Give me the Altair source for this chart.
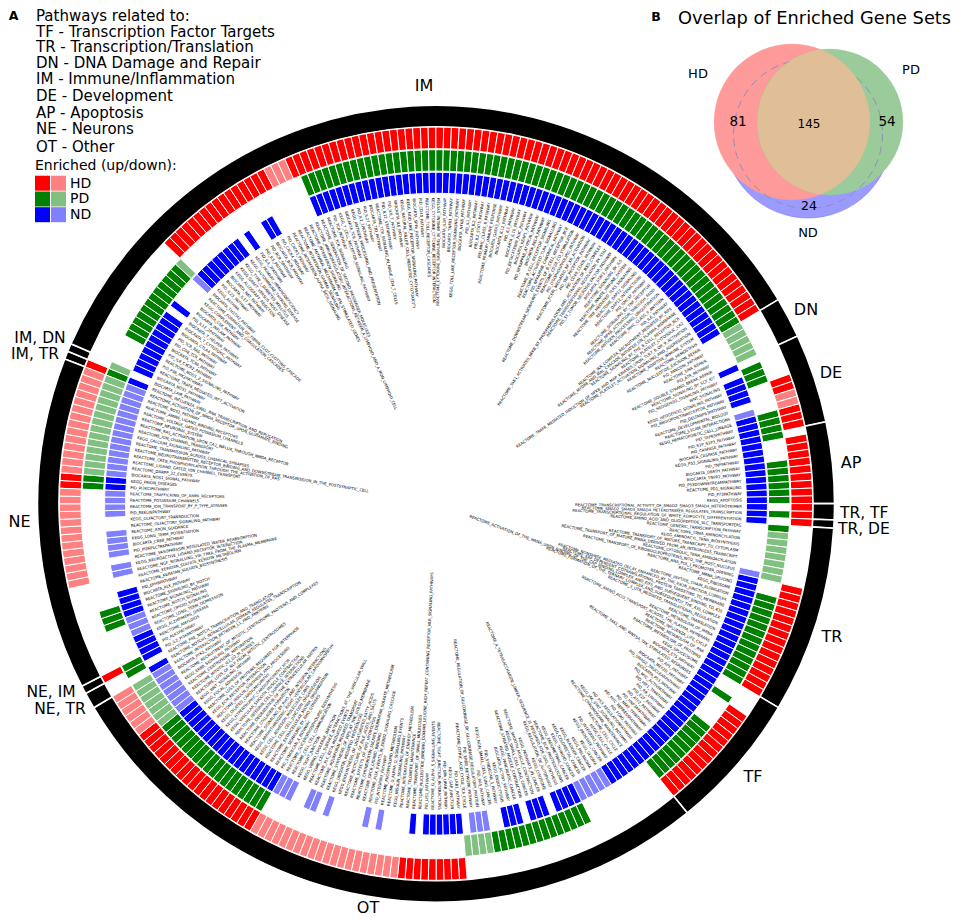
import altair as alt
import pandas as pd

CX, CY = 436 - 8, 503.7 - 8
START_DEG = 291.3
SLOT_DEG = 360 / 304
FONT = "DejaVu Sans"

SECTOR_BOUNDS = [0, 1, 2, 108, 113, 124, 134, 136, 137, 160, 177, 260, 262, 263, 304]

HD_UP = [(0, 0), (19, 34), (38, 107), (117, 118), (121, 123), (125, 136), (145, 159), (163, 176),
         (206, 214), (235, 253), (262, 262), (288, 289)]
HD_DOWN = [(35, 37), (119, 120), (215, 234), (254, 259), (275, 287), (290, 303)]
PD_UP = [(0, 0), (6, 17), (39, 107), (114, 116), (121, 124), (128, 133), (135, 135), (137, 137),
         (147, 159), (162, 162), (167, 176), (188, 201), (235, 252), (261, 262), (268, 270), (288, 289)]
PD_DOWN = [(1, 1), (18, 18), (108, 112), (138, 144), (202, 205), (253, 259), (290, 303)]
ND_UP = [(0, 0), (2, 11), (13, 13), (19, 26), (28, 28), (31, 32), (39, 107), (113, 113), (115, 118),
         (121, 136), (145, 182), (188, 191), (193, 195), (197, 199), (206, 211), (213, 213), (235, 252),
         (260, 260), (262, 265), (269, 272), (288, 289)]
ND_DOWN = [(18, 18), (120, 120), (144, 144), (183, 187), (202, 204), (218, 218), (220, 220), (226, 226),
           (228, 229), (232, 234), (253, 259), (266, 268), (275, 276), (278, 281), (284, 287), (290, 303)]

LABELS_START = [
    "REACTOME_INFLUENZA_VIRAL_RNA_TRANSCRIPTION_AND_REPLICATION", "BIOCARTA_LAIR_PATHWAY",
]
LABELS_IM = [
    "BIOCARTA_NOS1_PATHWAY", "REACTOME_TRAF6_MEDIATED_IRF7_ACTIVATION", "PID_P38_MK2PATHWAY", "REACTOME_NOD1_2_SIGNALING_PATHWAY", "PID_IL8_CXCR2_PATHWAY", "BIOCARTA_TCRA_PATHWAY", "PID_CD8_TCR_PATHWAY", "PID_TCR_RAS_PATHWAY", "BIOCARTA_CTLA4_PATHWAY", "BIOCARTA_T_CYTOTOXIC_PATHWAY",
    "BIOCARTA_T_HELPER_PATHWAY", "PID_IL12_2PATHWAY", "BIOCARTA_INFLAM_PATHWAY", "BIOCARTA_CSK_PATHWAY", "KEGG_COMPLEMENT_AND_COAGULATION_CASCADES", "REACTOME_FORMATION_OF_FIBRIN_CLOT_CLOTTING_CASCADE", "BIOCARTA_TH1TH2_PATHWAY", "KEGG_ASTHMA", "PID_IL23_PATHWAY", "BIOCARTA_IL17_PATHWAY",
    "BIOCARTA_NKT_PATHWAY", "KEGG_ALLOGRAFT_REJECTION", "KEGG_GRAFT_VERSUS_HOST_DISEASE", "KEGG_TYPE_I_DIABETES_MELLITUS", "KEGG_AUTOIMMUNE_THYROID_DISEASE", "KEGG_PRIMARY_IMMUNODEFICIENCY", "PID_IL4_2PATHWAY", "PID_IL5_PATHWAY", "PID_BCR_5PATHWAY", "BIOCARTA_BCR_PATHWAY",
    "PID_CXCR4_PATHWAY", "PID_CXCR3_PATHWAY", "REACTOME_INTERFERON_ALPHA_BETA_SIGNALING", "REACTOME_INTERFERON_GAMMA_SIGNALING", "REACTOME_ANTIVIRAL_MECHANISM_BY_IFN_STIMULATED_GENES", "REACTOME_INTERFERON_SIGNALING", "REACTOME_IMMUNOREGULATORY_INTERACTIONS_BETWEEN_A_LYMPHOID_AND_A_NON_LYMPHOID_CELL", "REACTOME_GENERATION_OF_SECOND_MESSENGER_MOLECULES", "REACTOME_TCR_SIGNALING", "PID_TCR_PATHWAY",
    "KEGG_T_CELL_RECEPTOR_SIGNALING_PATHWAY", "BIOCARTA_TCR_PATHWAY", "KEGG_ANTIGEN_PROCESSING_AND_PRESENTATION", "PID_IL2_1PATHWAY", "PID_IL27_PATHWAY", "BIOCARTA_TID_PATHWAY", "REACTOME_TCR_SIGNALING_IN_NAIVE_CD4_T_CELLS", "PID_IL12_STAT4PATHWAY", "PID_IL6_7_PATHWAY", "BIOCARTA_IL6_PATHWAY",
    "KEGG_NATURAL_KILLER_CELL_MEDIATED_CYTOTOXICITY", "KEGG_NOD_LIKE_RECEPTOR_SIGNALING_PATHWAY", "BIOCARTA_SPPA_PATHWAY", "PID_CD40_PATHWAY", "REACTOME_TOLL_RECEPTOR_CASCADES", "KEGG_CYTOKINE_CYTOKINE_RECEPTOR_INTERACTION", "REACTOME_CYTOKINE_SIGNALING_IN_IMMUNE_SYSTEM", "BIOCARTA_IL1R_PATHWAY", "BIOCARTA_TNFR1_PATHWAY", "KEGG_TOLL_LIKE_RECEPTOR_SIGNALING_PATHWAY",
    "BIOCARTA_NFKB_PATHWAY", "PID_IL1_PATHWAY", "BIOCARTA_IL2_PATHWAY", "PID_IL2_STAT5_PATHWAY", "PID_MHC_CLASS_II_PATHWAY", "REACTOME_PRIMARY_IMMUNE_RESPONSE", "BIOCARTA_GATA3_PATHWAY", "BIOCARTA_IL12_PATHWAY", "PID_IL3_PATHWAY", "BIOCARTA_IL10_PATHWAY",
    "PID_BETACATENIN_NUC_PATHWAY", "BIOCARTA_KEAP1_PATHWAY", "PID_NFKAPPAB_ATYPICAL_PATHWAY", "BIOCARTA_RELA_PATHWAY", "REACTOME_B_CELL_RECEPTOR_SIGNALING", "REACTOME_ACTIVATED_TLR4_SIGNALLING", "PID_NFKAPPAB_CANONICAL_PATHWAY", "REACTOME_DOWNSTREAM_SIGNALING_EVENTS_OF_B_CELL_RECEPTOR_BCR", "REACTOME_CD28_CO_STIMULATION", "PID_LYSOPHOSPHOLIPID_PATHWAY",
    "REACTOME_FCERI_MEDIATED_NF_KB_ACTIVATION", "PID_TNF_RECEPTOR_PATHWAY", "PID_CD40_CD40L_PATHWAY", "REACTOME_TAK1_ACTIVATES_NFKB_BY_PHOSPHORYLATION_AND_ACTIVATION_OF_IKKS_COMPLEX", "REACTOME_TRANSCRIPTIONAL_REGULATION_BY_STAT", "PID_ST_TUMOR_NECROSIS_FACTOR_PATHWAY", "BIOCARTA_STAT3_PATHWAY", "REACTOME_SIGNALING_BY_ILS", "REACTOME_INNATE_IMMUNE_SYSTEM", "REACTOME_TRIF_MEDIATED_TLR3_SIGNALING",
    "REACTOME_DAP12_SIGNALING", "REACTOME_DAP12_INTERACTIONS", "PID_GMCSF_PATHWAY", "REACTOME_SIGNALING_BY_TNF_RECEPTOR", "REACTOME_NFKB_ACTIVATION_THROUGH_FADD", "REACTOME_ANTIGEN_PROCESSING_UBIQUITINATION", "REACTOME_MHC_CLASS_II_ANTIGEN", "PID_IL6_PATHWAY", "REACTOME_IKK_COMPLEX_RECRUITMENT_MEDIATED_BY_RIP1", "REACTOME_MYD88_AND_MAL_CASCADE_INITIATED_ON_PLASMA_MEMBRANE",
    "REACTOME_SIGNALING_BY_THE_B_CELL_RECEPTOR_BCR", "REACTOME_PLATELET_CYTOSOLIC_CA2", "REACTOME_TRAF6_MEDIATED_INDUCTION_OF_NFKB_AND_MAP_KINASES_UPON_TLR7_8_OR_9_ACTIVATION", "REACTOME_PLATELET_ACTIVATION_SIGNALING_AND_AGGREGATION", "REACTOME_ADAPTIVE_IMMUNE_SYSTEM", "REACTOME_HEMOSTASIS",
]
LABELS_RIGHT = [
    "REACTOME_NUCLEOTIDE_EXCISION_REPAIR", "PID_FANCONI_PATHWAY", "REACTOME_DNA_REPAIR", "PID_ATR_PATHWAY", "REACTOME_DOUBLE_STRAND_BREAK_REPAIR",
    "REACTOME_SIGNALING_BY_SCF_KIT", "PID_HEDGEHOG_SIGNALING_PATHWAY", "WNT_SIGNALING", "KEGG_HEDGEHOG_SIGNALING_PATHWAY", "PID_ANGIOPOIETINRECEPTOR_PATHWAY",
    "PID_DELTANP63PATHWAY", "REACTOME_DEVELOPMENTAL_BIOLOGY", "REACTOME_L1CAM_INTERACTIONS", "KEGG_HEMATOPOIETIC_CELL_LINEAGE", "PID_TAP63PATHWAY", "PID_S1P_S1P3_PATHWAY",
    "PID_CASPASE_PATHWAY", "BIOCARTA_CASPASE_PATHWAY", "KEGG_P53_SIGNALING_PATHWAY", "PID_TNFPATHWAY", "BIOCARTA_DEATH_PATHWAY", "BIOCARTA_TNFR2_PATHWAY",
    "PID_P53DOWNSTREAMPATHWAY", "REACTOME_PD1_SIGNALING", "PID_P73PATHWAY", "KEGG_APOPTOSIS",
    "REACTOME_TRANSCRIPTIONAL_ACTIVITY_OF_SMAD2_SMAD3_SMAD4_HETEROTRIMER", "REACTOME_SMAD2_SMAD3_SMAD4_HETEROTRIMER_REGULATES_TRANSCRIPTION",
    "REACTOME_TRANSCRIPTIONAL_REGULATION_OF_WHITE_ADIPOCYTE_DIFFERENTIATION",
]
LABELS_TR = [
    "REACTOME_AMINO_ACID_AND_OLIGOPEPTIDE_SLC_TRANSPORTERS", "REACTOME_GENERIC_TRANSCRIPTION_PATHWAY", "REACTOME_TRNA_AMINOACYLATION", "KEGG_AMINOACYL_TRNA_BIOSYNTHESIS",
    "REACTOME_TRANSPORT_OF_MATURE_TRANSCRIPT_TO_CYTOPLASM", "REACTOME_TRANSPORT_OF_MATURE_MRNA_DERIVED_FROM_AN_INTRONLESS_TRANSCRIPT", "REACTOME_CYTOSOLIC_TRNA_AMINOACYLATION",
    "REACTOME_TRANSPORT_OF_RIBONUCLEOPROTEINS_INTO_THE_HOST_NUCLEUS", "REACTOME_RNA_POL_I_PROMOTER_OPENING", "REACTOME_MRNA_SPLICING", "KEGG_RIBOSOME", "REACTOME_PEPTIDE_CHAIN_ELONGATION",
    "REACTOME_NONSENSE_MEDIATED_DECAY_ENHANCED_BY_THE_EXON_JUNCTION_COMPLEX", "REACTOME_SRP_DEPENDENT_COTRANSLATIONAL_PROTEIN_TARGETING_TO_MEMBRANE",
    "REACTOME_ACTIVATION_OF_THE_MRNA_UPON_BINDING_OF_THE_CAP_BINDING_COMPLEX_AND_EIFS_AND_SUBSEQUENT_BINDING_TO_43S",
    "REACTOME_FORMATION_OF_THE_TERNARY_COMPLEX_AND_SUBSEQUENTLY_THE_43S_COMPLEX", "REACTOME_3_UTR_MEDIATED_TRANSLATIONAL_REGULATION", "REACTOME_TRANSLATION", "REACTOME_METABOLISM_OF_MRNA",
    "REACTOME_AMINO_ACID_TRANSPORT_ACROSS_THE_PLASMA_MEMBRANE", "REACTOME_INFLUENZA_LIFE_CYCLE", "REACTOME_METABOLISM_OF_RNA", "REACTOME_METABOLISM_OF_PROTEINS",
]
LABELS_TF = [
    "KEGG_SPLICEOSOME", "BIOCARTA_ETS_PATHWAY", "REACTOME_TAK1_AND_WNT5A_TAK_STIMULATED_RESPONSES", "PID_AP1_PATHWAY", "BIOCARTA_MEF2D_PATHWAY", "PID_SMAD2_3NUCLEARPATHWAY",
    "BIOCARTA_P53_PATHWAY", "PID_MYC_ACTIVPATHWAY", "PID_HIF1_TFPATHWAY", "PID_RB_1PATHWAY", "PID_E2F_PATHWAY", "PID_ATF2_PATHWAY", "PID_HNF3APATHWAY", "PID_NFAT_TFPATHWAY",
    "PID_MYC_REPRESSPATHWAY", "PID_FOXO_PATHWAY", "PID_P53_REGULATIONPATHWAY",
]
LABELS_OT = [
    "KEGG_JAK_STAT_SIGNALING_PATHWAY", "REACTOME_CHROMOSOME_MAINTENANCE", "REACTOME_CELL_CYCLE", "KEGG_CELL_CYCLE", "PID_INTEGRIN1_PATHWAY", "KEGG_PROSTATE_CANCER", "KEGG_GLIOMA", "KEGG_MELANOMA", "KEGG_BLADDER_CANCER", "KEGG_COLORECTAL_CANCER",
    "KEGG_THYROID_CANCER", "KEGG_ENDOMETRIAL_CANCER", "REACTOME_ECM_PROTEOGLYCANS", "REACTOME_A_TETRASACCHARIDE_LINKER_SEQUENCE_IS_REQUIRED_FOR_GAG_SYNTHESIS", "KEGG_REGULATION_OF_AUTOPHAGY", "KEGG_LYSOSOME", "KEGG_PATHWAYS_IN_CANCER", "REACTOME_SMOOTH_MUSCLE_CONTRACTION", "KEGG_SMALL_CELL_LUNG_CANCER", "REACTOME_STRIATED_MUSCLE_CONTRACTION",
    "KEGG_PANCREATIC_CANCER", "BIOCARTA_ACTINY_PATHWAY", "KEGG_ENDOCYTOSIS", "PID_SYNDECAN_1_PATHWAY", "KEGG_NON_SMALL_CELL_LUNG_CANCER", "PID_RAS_PATHWAY", "REACTOME_REGULATION_OF_GLUCOKINASE_BY_GLUCOKINASE_REGULATORY_PROTEIN", "PID_ERBB_NETWORK_PATHWAY", "REACTOME_CITRIC_ACID_CYCLE_TCA_CYCLE", "PID_LKB1_PATHWAY",
    "KEGG_GAP_JUNCTION", "PID_UPA_UPAR_PATHWAY", "REACTOME_TIGHT_JUNCTION_INTERACTIONS", "REACTOME_G_ALPHA_S_SIGNALLING_EVENTS", "PID_LIS1_PATHWAY", "REACTOME_NUCLEOTIDE_BINDING_DOMAIN_LEUCINE_RICH_REPEAT_CONTAINING_RECEPTOR_NLR_SIGNALING_PATHWAYS", "REACTOME_TRANSPORT_OF_SMALL_MOLECULES", "REACTOME_TELOMERE_MAINTENANCE", "REACTOME_INTEGRATION_OF_ENERGY_METABOLISM", "KEGG_INSULIN_SIGNALING_PATHWAY",
    "REACTOME_G_ALPHA_Q_SIGNALLING_EVENTS", "REACTOME_PHOSPHOLIPID_METABOLISM", "PID_INTEGRIN3_PATHWAY", "REACTOME_PI3K_EVENTS_IN_ERBB2_SIGNALING_CASCADE", "REACTOME_GPCR_LIGAND_BINDING", "REACTOME_CHONDROITIN_SULFATE_DERMATAN_SULFATE_METABOLISM", "REACTOME_EFFECTS_OF_PIP2_HYDROLYSIS", "REACTOME_RECYCLING_OF_BILE_ACIDS_AND_SALTS", "KEGG_BIOSYNTHESIS_OF_UNSATURATED_FATTY_ACIDS", "KEGG_UBIQUITIN_MEDIATED_PROTEOLYSIS",
    "REACTOME_SYNTHESIS_OF_PIPS_AT_THE_GOLGI_MEMBRANE", "REACTOME_AQUAPORIN_MEDIATED_TRANSPORT", "REACTOME_PLC_BETA_MEDIATED_EVENTS", "REACTOME_CELL_SURFACE_INTERACTIONS_AT_THE_VASCULAR_WALL", "KEGG_VIBRIO_CHOLERAE_INFECTION", "KEGG_TIGHT_JUNCTION", "REACTOME_CELL_CELL_COMMUNICATION", "REACTOME_GLYCEROPHOSPHOLIPID_BIOSYNTHESIS", "PID_SYNDECAN_4_PATHWAY", "REACTOME_SIGNALING_BY_RHO_GTPASES",
    "REACTOME_EXTRACELLULAR_MATRIX_ORGANIZATION", "REACTOME_CELL_CELL_JUNCTION_ORGANIZATION", "KEGG_CELL_ADHESION_MOLECULES_CAMS", "KEGG_ARRHYTHMOGENIC_RIGHT_VENTRICULAR_CARDIOMYOPATHY", "REACTOME_SIGNALING_BY_RHO_AND_INTEGRIN_INTERACTIONS", "REACTOME_COLLAGEN_FORMATION", "REACTOME_DEGRADATION_OF_THE_EXTRACELLULAR_MATRIX", "REACTOME_INTEGRIN_CELL_SURFACE_INTERACTIONS", "KEGG_VASCULAR_SMOOTH_MUSCLE_CONTRACTION", "KEGG_HYPERTROPHIC_CARDIOMYOPATHY_HCM",
    "KEGG_DILATED_CARDIOMYOPATHY", "REACTOME_INSULIN_SYNTHESIS_AND_PROCESSING", "KEGG_ECM_RECEPTOR_INTERACTION", "REACTOME_LOSS_OF_PROTEINS_REQUIRED_FOR_INTERPHASE", "KEGG_FOCAL_ADHESION", "KEGG_WNT_SIGNALING_PATHWAY", "REACTOME_LOSS_OF_NLP_FROM_MITOTIC_CENTROSOMES", "REACTOME_MITOTIC_G2_G2_M_PHASES", "REACTOME_CENTROSOME_MATURATION", "KEGG_ERBB_SIGNALING_PATHWAY",
    "REACTOME_RECRUITMENT_OF_MITOTIC_CENTROSOME_PROTEINS_AND_COMPLEXES", "BIOCARTA_PYK2_PATHWAY", "REACTOME_INTERACTION_BETWEEN_L1_AND_ANKYRINS",
]
LABELS_NE_BOTTOM = [
    "REACTOME_NOTCH1_INTRACELLULAR_DOMAIN_REGULATES_TRANSCRIPTION", "REACTOME_PRE_NOTCH_TRANSCRIPTION_AND_TRANSLATION", "PID_IL2_PI3KPATHWAY", "PID_ALK1PATHWAY",
    "REACTOME_AMYLOIDS", "KEGG_ALZHEIMERS_DISEASE", "REACTOME_LONG_TERM_DEPRESSION", "REACTOME_OPIOID_SIGNALING", "REACTOME_NOTCH_SIGNALING", "REACTOME_SIGNALING_PATHWAY",
    "REACTOME_SIGNALING_BY_NOTCH", "BIOCARTA_ALK_PATHWAY", "PID_EPHBPATHWAY", "REACTOME_KERATAN_SULFATE_BIOSYNTHESIS", "REACTOME_KERATAN_SULFATE_KERATIN_METABOLISM",
    "REACTOME_NGF_SIGNALLING_VIA_TRKA_FROM_THE_PLASMA_MEMBRANE", "KEGG_NEUROACTIVE_LIGAND_RECEPTOR_INTERACTION", "REACTOME_VASOPRESSIN_REGULATED_WATER_REABSORPTION", "PID_PI3KPLCTRKPATHWAY",
    "BIOCARTA_CREB_PATHWAY", "KEGG_LONG_TERM_POTENTIATION", "REACTOME_AXON_GUIDANCE", "REACTOME_OLFACTORY_SIGNALING_PATHWAY", "KEGG_OLFACTORY_TRANSDUCTION", "PID_REELINPATHWAY",
    "REACTOME_ION_TRANSPORT_BY_P_TYPE_ATPASES", "REACTOME_POTASSIUM_CHANNELS", "REACTOME_TRAFFICKING_OF_AMPA_RECEPTORS", "PID_PI3KCIPATHWAY", "KEGG_PRION_DISEASES",
    "BIOCARTA_NOS1_SIGNAL_PATHWAY", "REACTOME_DARPP_32_EVENTS", "REACTOME_LIGAND_GATED_ION_CHANNEL_TRANSPORT", "REACTOME_CREB_PHOSPHORYLATION_THROUGH_THE_ACTIVATION_OF_RAS",
    "REACTOME_NEUROTRANSMITTER_RECEPTOR_BINDING_AND_DOWNSTREAM_TRANSMISSION_IN_THE_POSTSYNAPTIC_CELL", "REACTOME_TRANSMISSION_ACROSS_CHEMICAL_SYNAPSES", "KEGG_CALCIUM_SIGNALING_PATHWAY",
    "REACTOME_ION_CHANNEL_TRANSPORT", "REACTOME_RAS_ACTIVATION_UPON_CA2_INFLUX_THROUGH_NMDA_RECEPTOR", "REACTOME_NEURONAL_SYSTEM", "REACTOME_VOLTAGE_GATED_POTASSIUM_CHANNELS",
    "REACTOME_AMINE_LIGAND_BINDING_RECEPTORS", "REACTOME_NOS1_PATHWAY", "REACTOME_ACTIVATION_OF_NMDA_RECEPTOR_UPON_GLUTAMATE_BINDING",
]
LABELS = LABELS_START + LABELS_IM + LABELS_RIGHT + LABELS_TR + LABELS_TF + LABELS_OT + LABELS_NE_BOTTOM
LABELS = (LABELS + [""] * 304)[:304]

LEGEND_LINES = ["Pathways related to:", "TF - Transcription Factor Targets", "TR - Transcription/Translation",
                "DN - DNA Damage and Repair", "IM - Immune/Inflammation", "DE - Development", "AP - Apoptosis",
                "NE - Neurons", "OT - Other"]
LEGEND_Y = [16, 31.5, 47, 63, 79.3, 96, 112.7, 129.3, 146.7]

RED, LRED, GREEN, LGREEN, BLUE, LBLUE = "#ff0000", "#ff8080", "#008000", "#80c080", "#0000ff", "#8080ff"

th_scale = alt.Scale(domain=[0, 720], range=[0, 12.566370614])
r_scale = alt.Scale(type="linear", domain=[0, 400], range=[0, 400], zero=True)


def slot_theta(i):
    return START_DEG + i * SLOT_DEG


def ring_rows(groups, r0, r1, color):
    rows = []
    for a, b in groups:
        for i in range(a, b + 1):
            rows.append(dict(t=slot_theta(i), t2=slot_theta(i + 1), r=r0, r2=r1, c=color))
    return rows


def arcs(rows, stroke="#ffffff", width=1.0, cx=CX, cy=CY):
    return alt.Chart(pd.DataFrame(rows)).mark_arc(stroke=stroke, strokeWidth=width).encode(
        x=alt.value(cx), y=alt.value(cy),
        theta=alt.Theta("t:Q", scale=th_scale), theta2="t2:Q",
        radius=alt.Radius("r2:Q", scale=r_scale), radius2="r:Q",
        color=alt.Color("c:N", scale=None),
    )


def txt(s, x, y, size=16, align="left", weight="normal"):
    return alt.Chart(pd.DataFrame({"s": [s]})).mark_text(
        font=FONT, fontSize=size, align=align, baseline="middle", fontWeight=weight, color="#000000"
    ).encode(x=alt.value(x - 8), y=alt.value(y - 8), text="s:N")


def rect(x0, x1, y0, y1, color):
    return alt.Chart(pd.DataFrame({"a": [0]})).mark_rect(color=color, opacity=1).encode(
        x=alt.value(x0 - 8), x2=alt.value(x1 - 8), y=alt.value(y0 - 8), y2=alt.value(y1 - 8))


layers = []

# outer black ring
ring = [dict(t=slot_theta(a), t2=slot_theta(b), r=377, r2=398.5, c="#000000")
        for a, b in zip(SECTOR_BOUNDS[:-1], SECTOR_BOUNDS[1:])]
layers.append(arcs(ring, width=1.6))

# enrichment bars
bars = (ring_rows(HD_UP, 355, 376.6, RED) + ring_rows(HD_DOWN, 355, 376.6, LRED)
        + ring_rows(PD_UP, 332.6, 354, GREEN) + ring_rows(PD_DOWN, 332.6, 354, LGREEN)
        + ring_rows(ND_UP, 310.4, 331.4, BLUE) + ring_rows(ND_DOWN, 310.4, 331.4, LBLUE))
layers.append(arcs(bars, width=1.0))

# pathway labels
lab = pd.DataFrame({"label": LABELS, "slot": range(304)})
lab = lab[lab.label != ""]
lab["t"] = [slot_theta(i + 0.5) for i in lab.slot]
lab["r"] = 306.0
lab["rot"] = [(t - 90) % 360 if t % 360 < 180 else (t + 90) % 360 for t in lab.t]
for side, align in ((lab[lab.t % 360 < 180], "right"), (lab[lab.t % 360 >= 180], "left")):
    layers.append(alt.Chart(side).mark_text(font=FONT, fontSize=3.9, align=align, baseline="middle", color="#000000").encode(
        x=alt.value(CX), y=alt.value(CY),
        theta=alt.Theta("t:Q", scale=th_scale),
        radius=alt.Radius("r:Q", scale=r_scale),
        angle=alt.Angle("rot:Q", scale=None),
        text="label:N",
    ))

# sector labels
for s, x, y, a, size in [("IM", 424, 86, "center", 16), ("DN", 806, 310, "center", 16), ("DE", 831, 373, "center", 16),
                         ("AP", 851, 463, "center", 16), ("TR, TF", 840, 513, "left", 15.5), ("TR, DE", 838, 528.5, "left", 15.5),
                         ("TR", 832, 637, "center", 16), ("TF", 753, 777, "center", 16), ("OT", 368, 907.5, "center", 16),
                         ("NE", 19.5, 522, "center", 16), ("IM, DN", 40, 338, "center", 15.5), ("IM, TR", 35, 354, "center", 15.5),
                         ("NE, IM", 51, 692, "center", 15.5), ("NE, TR", 60, 709, "center", 15.5)]:
    layers.append(txt(s, x, y, size, a))

# legend
layers.append(txt("A", 13.5, 16, 12.5, "center", "bold"))
for s, y in zip(LEGEND_LINES, LEGEND_Y):
    layers.append(txt(s, 36, y, 15))
layers.append(txt("Enriched (up/down):", 35, 165.7, 14))
for (c1, c2), y0, name in zip([(RED, LRED), (GREEN, LGREEN), (BLUE, LBLUE)], [175.7, 191.5, 207.2], ["HD", "PD", "ND"]):
    layers.append(rect(35, 50, y0, y0 + 15, c1))
    layers.append(rect(51, 66, y0, y0 + 15, c2))
    layers.append(txt(name, 70, y0 + 7.8, 14))

# Venn diagram
layers.append(arcs([dict(t=0, t2=360, r=0, r2=84, c="#9b9bff")], stroke="#8080f0", width=0.6, cx=808 - 8, cy=134 - 8))
layers.append(arcs([dict(t=0, t2=360, r=0, r2=78, c="#fe9a9a")], stroke="#fe9a9a", width=0.2, cx=792 - 8, cy=122 - 8))
layers.append(arcs([dict(t=0, t2=360, r=0, r2=73, c="#9bcb9b")], stroke="#9bcb9b", width=0.2, cx=830 - 8, cy=122 - 8))
layers.append(alt.Chart(pd.DataFrame({"a": [0]})).mark_point(
    shape="circle", filled=False, stroke="#8f8fb8", strokeWidth=1, strokeDash=[8, 5], opacity=1, size=3.14159 * 84 * 84
).encode(x=alt.value(808 - 8), y=alt.value(134 - 8)))
layers.append(alt.Chart(pd.DataFrame({"a": [0]})).mark_point(
    shape="M0,-0.724A0.78,0.78,0,0,1,0,0.724A0.73,0.73,0,0,1,0,-0.724Z",
    filled=True, color="#dfbe98", strokeWidth=0, opacity=1, size=40000
).encode(x=alt.value(820.93 - 8), y=alt.value(122 - 8)))

layers.append(txt("B", 656, 17, 12.5, "center", "bold"))
layers.append(txt("Overlap of Enriched Gene Sets", 678, 18.5, 17.8))
for s, x, y, size in [("HD", 698, 74, 13), ("PD", 911, 70, 13), ("ND", 808, 233, 13),
                      ("81", 738, 122, 13.5), ("145", 809, 124, 12), ("54", 887, 122, 13.5), ("24", 809, 206, 12.5)]:
    layers.append(txt(s, x, y, size, "center"))

chart = alt.layer(*layers).properties(
    width=948, height=907, padding=0, autosize=alt.AutoSizeParams(type="none"),
    background="#ffffff",
).configure_view(strokeWidth=0)

chart.save("out.html", embed_options={"renderer": "svg", "actions": False})
